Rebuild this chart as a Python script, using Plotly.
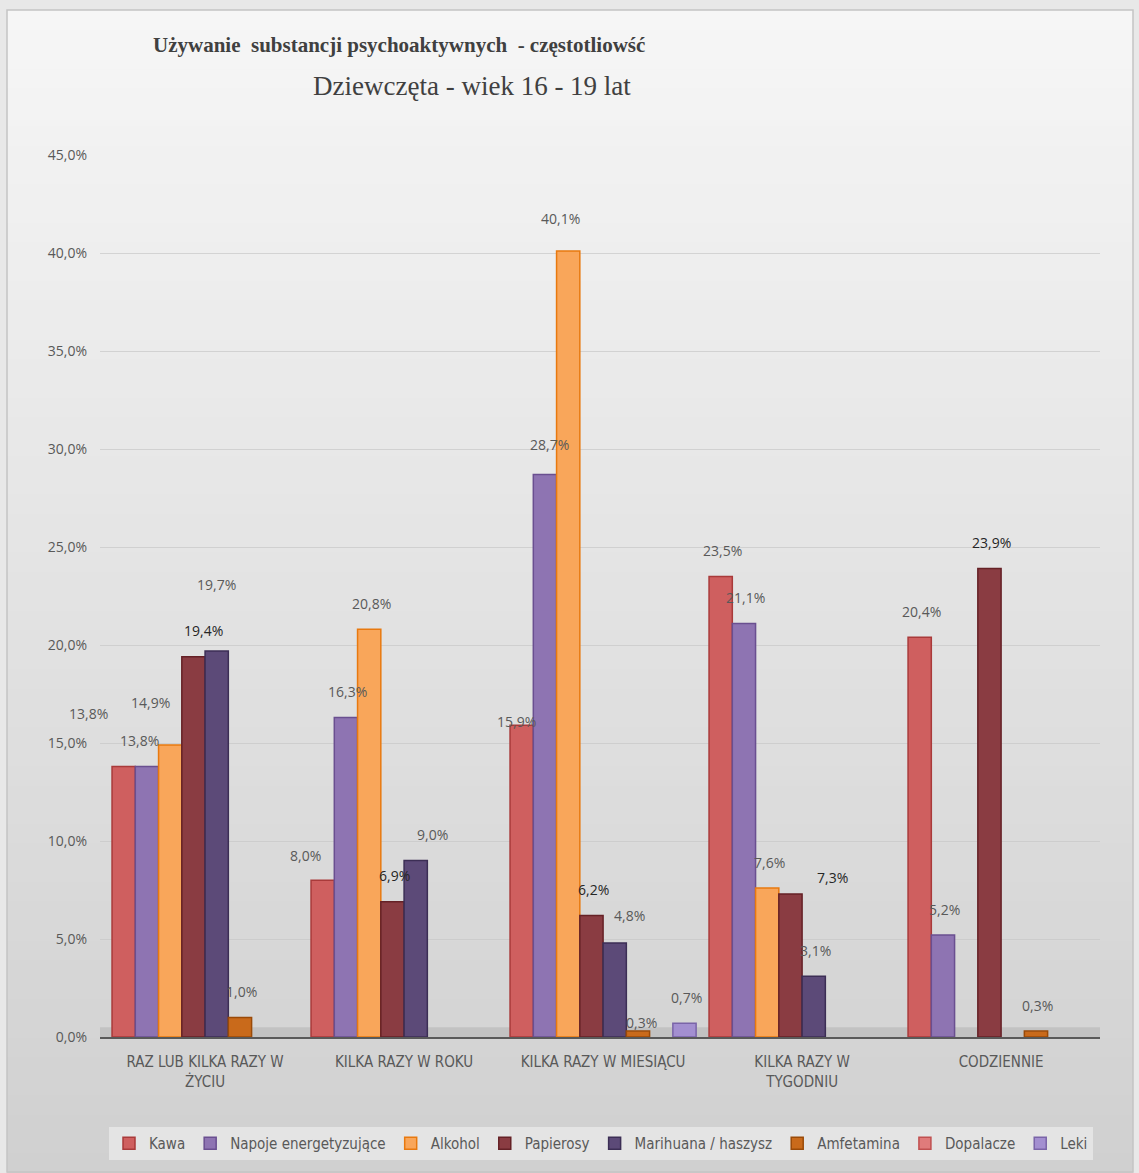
import plotly.graph_objects as go

categories = ["RAZ LUB KILKA RAZY W<br>ŻYCIU", "KILKA RAZY W ROKU", "KILKA RAZY W MIESIĄCU",
              "KILKA RAZY W<br>TYGODNIU", "CODZIENNIE"]
series_names = ["Kawa", "Napoje energetyzujące", "Alkohol", "Papierosy",
                "Marihuana / haszysz", "Amfetamina", "Dopalacze", "Leki"]
kawa = [13.8, 8.0, 15.9, 23.5, 20.4]
napoje = [13.8, 16.3, 28.7, 21.1, 5.2]
alkohol = [14.9, 20.8, 40.1, 7.6, None]
papierosy = [19.4, 6.9, 6.2, 7.3, 23.9]
marihuana = [19.7, 9.0, 4.8, 3.1, None]
amfetamina = [1.0, None, 0.3, None, 0.3]
dopalacze = [None, None, None, None, None]
leki = [None, None, 0.7, None, None]
y_ticks = [0, 5, 10, 15, 20, 25, 30, 35, 40, 45]

values = [kawa, napoje, alkohol, papierosy, marihuana, amfetamina, dopalacze, leki]
fills = ["#cf5f5f", "#8e74b2", "#f9a65a", "#8a3c42", "#5c4a78", "#c96a1b", "#e07b7b", "#a38fd0"]
edges = ["#a93a3a", "#6a4f90", "#e8790f", "#652126", "#3c2e55", "#9a4a08", "#c05050", "#7a64a8"]
label_colors = ["#595959", "#595959", "#595959", "#262626", "#595959", "#595959", "#595959", "#595959"]

# label placement tweaks (series index, category index) -> (dx px, height above bar top px)
label_offsets = {
    (0, 0): (-35, 53), (1, 0): (-7, 26), (2, 0): (-20, 42), (3, 0): (10, 26), (4, 0): (0, 66),
    (0, 1): (-17, 25), (4, 1): (17, 26),
    (0, 2): (-5, 4), (1, 2): (5, 30), (2, 2): (-8, 33), (4, 2): (15, 27), (5, 2): (4, 9),
    (3, 3): (42, 16),
}
default_offset = (2, 26)

W, H = 1139, 1173
L, R, T, B = 100, 39, 155, 136
pw, ph = W - L - R, H - T - B
x_range = [-0.528, 4.497]
bargap = 0.065
n_series = len(series_names)
px_per_cat = pw / (x_range[1] - x_range[0])
bar_w = px_per_cat * (1 - bargap) / n_series


def px_x(p):
    return (p - L) / pw


def px_y(p):
    return (H - B - p) / ph


def fmt_pct(v):
    return ("%.1f%%" % v).replace(".", ",")


fig = go.Figure()
annotations = []
for i, (name, vals, fc, ec, lc) in enumerate(zip(series_names, values, fills, edges, label_colors)):
    fig.add_trace(go.Bar(
        name=name, x=categories, y=vals,
        marker=dict(color=fc, line=dict(color=ec, width=1.5)),
        hovertemplate="%{x}: %{y:.1f}%<extra>" + name + "</extra>",
    ))
    for j, v in enumerate(vals):
        if v is None:
            continue
        dx, dy = label_offsets.get((i, j), default_offset)
        annotations.append(dict(
            x=categories[j], y=v, xref="x", yref="y", text=fmt_pct(v), showarrow=False,
            xanchor="center", yanchor="middle",
            xshift=(i - (n_series - 1) / 2) * bar_w + dx, yshift=dy,
            font=dict(family="Open Sans, DejaVu Sans, sans-serif", size=14, color=lc),
        ))

shapes = []
# background vertical gradient
n = 60
top_c = (246, 246, 246)
bot_c = (208, 208, 208)
y_start, y_end = 10, H
for k in range(n):
    t = k / (n - 1)
    c = tuple(int(round(top_c[m] + (bot_c[m] - top_c[m]) * t)) for m in range(3))
    y0p = y_start + (y_end - y_start) * k / n
    y1p = y_start + (y_end - y_start) * (k + 1) / n + 1
    shapes.append(dict(type="rect", xref="paper", yref="paper",
                       x0=px_x(7), x1=px_x(1133), y0=px_y(y1p), y1=px_y(y0p),
                       fillcolor="rgb(%d,%d,%d)" % c, line=dict(width=0), layer="below"))
# outer frame
shapes.append(dict(type="rect", xref="paper", yref="paper",
                   x0=px_x(7), x1=px_x(1133), y0=px_y(1172), y1=px_y(10),
                   line=dict(color="#c4c4c4", width=1.5), fillcolor="rgba(0,0,0,0)", layer="below"))
# floor
shapes.append(dict(type="rect", xref="paper", yref="y", x0=0, x1=1, y0=0, y1=0.5,
                   fillcolor="#c2c2c2", line=dict(width=0), layer="between"))

annotations += [
    dict(text="<b>Używanie  substancji psychoaktywnych  - częstotliowść</b>",
         xref="paper", yref="paper", x=px_x(151), y=px_y(45), xanchor="left", yanchor="middle",
         showarrow=False, font=dict(family="Liberation Serif, Times New Roman, serif", size=21, color="#404040")),
    dict(text="Dziewczęta - wiek 16 - 19 lat",
         xref="paper", yref="paper", x=px_x(472), y=px_y(86), xanchor="center", yanchor="middle",
         showarrow=False, font=dict(family="Liberation Serif, Times New Roman, serif", size=27, color="#404040")),
]

fig.update_layout(
    width=W, height=H,
    margin=dict(l=L, r=R, t=T, b=B),
    paper_bgcolor="#e8e8e8",
    plot_bgcolor="rgba(0,0,0,0)",
    separators=", ",
    barmode="group",
    bargap=bargap,
    bargroupgap=0,
    shapes=shapes,
    annotations=annotations,
    showlegend=True,
    legend=dict(orientation="h", x=px_x(601), xanchor="center", y=px_y(1127), yanchor="top",
                bgcolor="#e4e4e4", borderwidth=0,
                font=dict(family="Liberation Sans Narrow, DejaVu Sans Condensed, sans-serif",
                          size=15, color="#595959"),
                itemwidth=30, tracegroupgap=0),
    font=dict(family="Open Sans, sans-serif", color="#595959"),
)
fig.update_xaxes(
    range=x_range, showline=True, linecolor="#595959", linewidth=2,
    showgrid=False, ticks="", fixedrange=True, ticklabelstandoff=10,
    tickfont=dict(family="Liberation Sans Narrow, DejaVu Sans Condensed, sans-serif", size=15, color="#595959"),
)
fig.update_yaxes(
    range=[0, 45], tickmode="array", tickvals=y_ticks,
    ticktext=[fmt_pct(v) for v in y_ticks],
    showgrid=True, gridcolor="rgba(200,200,200,0.7)", gridwidth=1,
    zeroline=False, showline=False, ticklabelstandoff=12,
    tickfont=dict(family="Open Sans, DejaVu Sans, sans-serif", size=14, color="#595959"),
)

fig.write_html("out.html", config={"displayModeBar": False},
               post_script="document.body.style.margin='0';")
